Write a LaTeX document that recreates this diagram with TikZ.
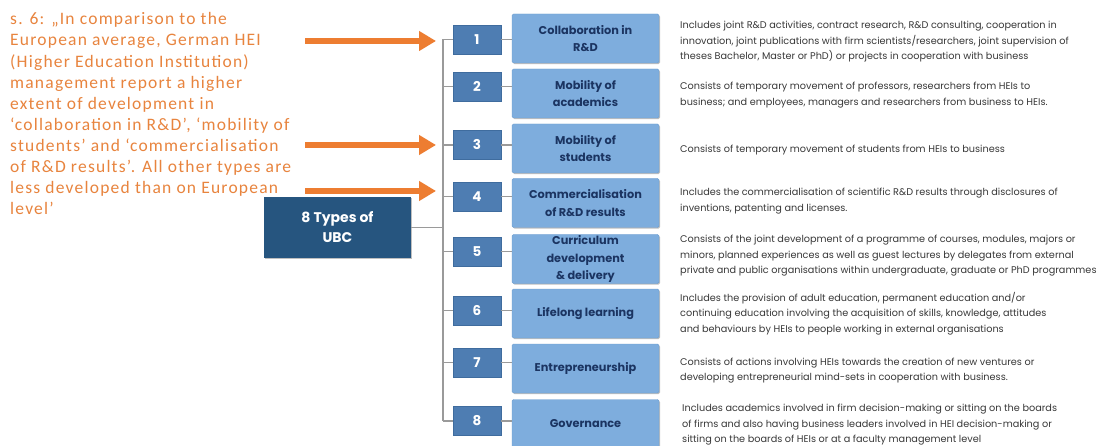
\documentclass[tikz,border=0pt]{standalone}
\usepackage{fontspec}
\setmainfont{Carlito}
\newfontfamily\geo{Poppins}
\newfontfamily\notefont{Carlito}[LetterSpace=7]
\usetikzlibrary{arrows.meta,shadows}

\definecolor{ubcdark}{HTML}{26557F}
\definecolor{numblue}{HTML}{4E7DB2}
\definecolor{numborder}{HTML}{3F6C9E}
\definecolor{lightblue}{HTML}{7EADDD}
\definecolor{lblborder}{HTML}{6E9ECF}
\definecolor{navy}{HTML}{1B3461}
\definecolor{desctext}{HTML}{383838}
\definecolor{linkgray}{HTML}{9A9A9A}
\definecolor{arroworange}{HTML}{ED7D31}
\definecolor{noteorange}{HTML}{E8843E}

\tikzset{
  lbl/.style={draw=lblborder, fill=lightblue, rounded corners=1.5pt,
    minimum width=147pt, minimum height=49pt, inner sep=0pt, align=center,
    font=\geo\bfseries\fontsize{11.3}{17.5}\selectfont, text=navy,
    drop shadow={shadow xshift=1pt, shadow yshift=-1.2pt, opacity=0.25, fill=black}},
  num/.style={draw=numborder, fill=numblue, minimum width=48pt, minimum height=29pt,
    inner sep=0pt, font=\geo\bfseries\fontsize{13.5}{15}\selectfont, text=white},
  hub/.style={fill=ubcdark, minimum width=147pt, minimum height=61pt, inner sep=0pt,
    align=center, font=\geo\bfseries\fontsize{14}{20}\selectfont, text=white,
    drop shadow={shadow xshift=1pt, shadow yshift=-1.2pt, opacity=0.25, fill=black}},
  desc/.style={anchor=west, inner sep=0pt, align=left,
    font=\geo\fontsize{9.7}{15.5}\selectfont, text=desctext},
  link/.style={draw=linkgray, line width=1.2pt},
  pointer/.style={draw=arroworange, line width=6.5pt,
    -{Triangle[length=17pt,width=19pt]}},
}

\begin{document}
\begin{tikzpicture}[x=1pt,y=-1pt]
\useasboundingbox[fill=white] (0,0) rectangle (1115,446);

% note on the left
\node[anchor=north west, inner sep=0pt, align=left,
      font=\notefont\fontsize{17.5}{21.1}\selectfont, text=noteorange] (note) at (10,12.5)
  {s. 6: „In comparison to the\\
   European average, German HEI\\
   (Higher Education Institution)\\
   management report a higher\\
   extent of development in\\
   ‘collaboration in R\&D’, ‘mobility of\\
   students’ and ‘commercialisation\\
   of R\&D results’. All other types are\\
   less developed than on European\\
   level’};

% central box
\node[hub] (main) at (337.5,227.5) {8 Types of\\UBC};

% numbered boxes
\node[num] (n1) at (477,39.5) {1};
\node[num] (n2) at (477,86.5) {2};
\node[num] (n3) at (477,145) {3};
\node[num] (n4) at (477,196.5) {4};
\node[num] (n5) at (477,251.5) {5};
\node[num] (n6) at (477,310.5) {6};
\node[num] (n7) at (477,362.5) {7};
\node[num] (n8) at (477,421) {8};

% type boxes
\node[lbl] (l1) at (585.5,38.5) {Collaboration in\\R\&D};
\node[lbl] (l2) at (585.5,93.5) {Mobility of\\academics};
\node[lbl] (l3) at (585.5,148.5) {Mobility of\\students};
\node[lbl] (l4) at (585.5,203) {Commercialisation\\of R\&D results};
\node[lbl] (l5) at (585.5,259) {Curriculum\\development\\\& delivery};
\node[lbl] (l6) at (585.5,313.5) {Lifelong learning};
\node[lbl] (l7) at (585.5,368.5) {Entrepreneurship};
\node[lbl] (l8) at (585.5,424) {Governance};

% tree connectors
\coordinate (trunk) at (443,0);
\draw[link] (n1.west -| trunk) -- (n8.west -| trunk);
\draw[link] (main.east) -- (main.east -| trunk);
\foreach \i in {1,...,8} {
  \draw[link] (n\i.west) -- (n\i.west -| trunk);
  \draw[link] (n\i.east) -- (n\i.east -| l\i.west);
}

% descriptions
\node[desc] (d1) at (680,42) {Includes joint R\&D activities, contract research, R\&D consulting, cooperation in\\
innovation, joint publications with firm scientists/researchers, joint supervision of\\
theses Bachelor, Master or PhD) or projects in cooperation with business};
\node[desc] (d2) at (680,95) {Consists of temporary movement of professors, researchers from HEIs to\\
business; and employees, managers and researchers from business to HEIs.};
\node[desc] (d3) at (680,150) {Consists of temporary movement of students from HEIs to business};
\node[desc] (d4) at (680,201) {Includes the commercialisation of scientific R\&D results through disclosures of\\
inventions, patenting and licenses.};
\node[desc] (d5) at (680,256) {Consists of the joint development of a programme of courses, modules, majors or\\
minors, planned experiences as well as guest lectures by delegates from external\\
private and public organisations within undergraduate, graduate or PhD programmes};
\node[desc] (d6) at (680,313.5) {Includes the provision of adult education, permanent education and/or\\
continuing education involving the acquisition of skills, knowledge, attitudes\\
and behaviours by HEIs to people working in external organisations};
\node[desc] (d7) at (680,370.5) {Consists of actions involving HEIs towards the creation of new ventures or\\
developing entrepreneurial mind-sets in cooperation with business.};
\node[desc] (d8) at (682,425) {Includes academics involved in firm decision-making or sitting on the boards\\
of firms and also having business leaders involved in HEI decision-making or\\
sitting on the boards of HEIs or at a faculty management level};

% orange pointers
\coordinate (p1s) at (305,41);  \coordinate (p1e) at (436,41);
\coordinate (p3s) at (305,145); \coordinate (p3e) at (436,145);
\coordinate (p4s) at (305,191); \coordinate (p4e) at (436,191);
\draw[pointer] (p1s) -- (p1e);
\draw[pointer] (p3s) -- (p3e);
\draw[pointer] (p4s) -- (p4e);
\end{tikzpicture}
\end{document}
